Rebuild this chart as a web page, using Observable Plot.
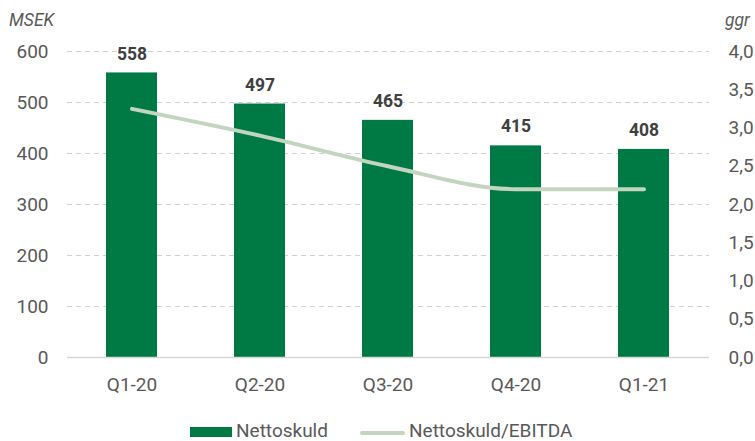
<!DOCTYPE html>
<html>
<head>
<meta charset="utf-8">
<script src="https://cdn.jsdelivr.net/npm/d3@7"></script>
<script src="https://cdn.jsdelivr.net/npm/@observablehq/plot@0.6"></script>
<style>
  html, body { margin: 0; padding: 0; background: #fff; }
  body { width: 755px; height: 441px; position: relative; overflow: hidden; font-family: Roboto, "Noto Sans", sans-serif; }
  #chart { position: absolute; left: 0; top: 0; }
  .unit { position: absolute; font-style: italic; font-size: 17.5px; line-height: 17px; color: #595959; top: 12px; }
  .legtext { position: absolute; top: 421px; font-size: 19px; line-height: 19px; color: #595959; white-space: nowrap; }
  .swatch { position: absolute; }
</style>
</head>
<body>
<div id="chart"></div>
<div class="unit" style="left:9px;">MSEK</div>
<div class="unit" style="left:725px;">ggr</div>
<div class="swatch" style="left:190px; top:427px; width:42px; height:10px; background:#007A45;"></div>
<div class="legtext" style="left:236px;">Nettoskuld</div>
<div class="swatch" style="left:360px; top:431px; width:45px; height:4px; background:#C3D5BF; border-radius:2px;"></div>
<div class="legtext" style="left:409px;">Nettoskuld/EBITDA</div>
<script>
const quarters = ["Q1-20", "Q2-20", "Q3-20", "Q4-20", "Q1-21"];
const nettoskuld = [558, 497, 465, 415, 408];
const ratio = [3.25, 2.9, 2.5, 2.2, 2.2];
const leftTicks = [0, 100, 200, 300, 400, 500, 600];
const rightTicks = [0, 0.5, 1.0, 1.5, 2.0, 2.5, 3.0, 3.5, 4.0];
const scaleFactor = 600 / 4; // right axis 0–4 mapped onto left 0–600

const bars = quarters.map((q, i) => ({q, v: nettoskuld[i]}));
const line = quarters.map((q, i) => ({q, r: ratio[i], y: ratio[i] * scaleFactor}));

const plot = Plot.plot({
  width: 755,
  height: 400,
  marginLeft: 67,
  marginRight: 46,
  marginTop: 51,
  marginBottom: 43,
  style: {fontFamily: "Roboto, 'Noto Sans', sans-serif", fontSize: "19px", color: "#595959", background: "transparent"},
  x: {domain: quarters, paddingInner: 0.6, paddingOuter: 0.3},
  y: {domain: [0, 600]},
  marks: [
    Plot.gridY(leftTicks.filter(d => d > 0), {stroke: "#d0d0d0", strokeOpacity: 1, strokeDasharray: "5,4", strokeWidth: 1}),
    Plot.barY(bars, {x: "q", y: "v", fill: "#007A45"}),
    Plot.ruleY([0], {stroke: "#d6d6d6", strokeWidth: 1.5}),
    Plot.line(line, {x: "q", y: "y", stroke: "#C3D5BF", strokeWidth: 4, curve: "monotone-x", strokeLinecap: "round"}),
    Plot.text(bars, {x: "q", y: "v", text: d => String(d.v), dy: -19, fill: "#404040", fontWeight: "bold", fontSize: 17.5}),
    Plot.axisY(leftTicks, {anchor: "left", tickSize: 0, tickPadding: 19, label: null, fontSize: 19, fill: "#595959"}),
    Plot.axisY(rightTicks.map(d => d * scaleFactor), {anchor: "right", tickSize: 0, tickPadding: 19, label: null, fontSize: 19, fill: "#595959",
      tickFormat: d => (d / scaleFactor).toFixed(1).replace(".", ",")}),
    Plot.axisX({anchor: "bottom", tickSize: 0, tickPadding: 20, label: null, fontSize: 19, fill: "#595959"})
  ]
});
document.getElementById("chart").appendChild(plot);
</script>
</body>
</html>
